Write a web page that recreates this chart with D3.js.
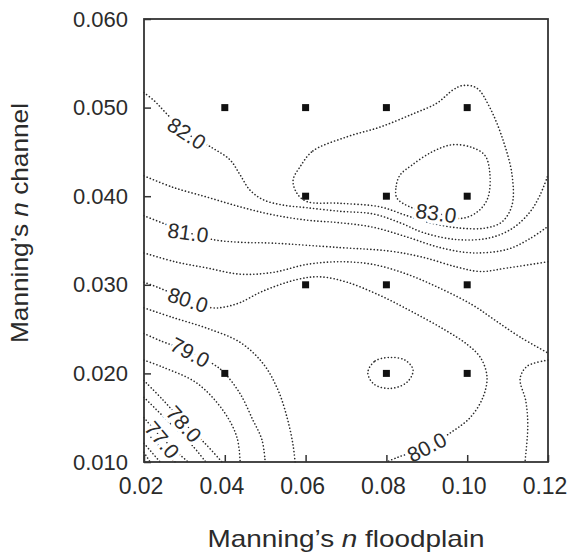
<!DOCTYPE html>
<html lang="en">
	<head>
		<meta charset="utf-8">
		<title>Manning's n contour</title>
		<script type="text/javascript" src="https://cdn.jsdelivr.net/npm/d3@7/dist/d3.min.js"></script>
		<style type="text/css">
			body { margin: 0; background: #fff; }
			text { font-family: "Liberation Sans", Arial, sans-serif; fill: #2b2b2b; }
		</style>
	</head>
	<body>
		<script type="text/javascript">

			//Axis ticks
			var xTicks = [0.02, 0.04, 0.06, 0.08, 0.10, 0.12];
			var yTicks = [0.010, 0.020, 0.030, 0.040, 0.050, 0.060];

			//Simulation points (floodplain n, channel n)
			var pointsX = [0.04, 0.06, 0.08, 0.10, 0.06, 0.08, 0.10, 0.06, 0.08, 0.10, 0.04, 0.08, 0.10];
			var pointsY = [0.05, 0.05, 0.05, 0.05, 0.04, 0.04, 0.04, 0.03, 0.03, 0.03, 0.02, 0.02, 0.02];

			//Contour lines, [n floodplain, n channel]
			var c755 = [[0.0200,0.0111],[0.0215,0.0100]];
			var c76  = [[0.0200,0.0121],[0.0240,0.0100]];
			var c765 = [[0.0200,0.0136],[0.0240,0.0117],[0.0277,0.0100]];
			var c77  = [[0.0200,0.0150],[0.0245,0.0127],[0.0309,0.0100]];
			var c775 = [[0.0200,0.0173],[0.0264,0.0144],[0.0319,0.0119],[0.0353,0.0100]];
			var c78  = [[0.0200,0.0192],[0.0247,0.0170],[0.0299,0.0144],[0.0351,0.0121],[0.0393,0.0100]];
			var c785 = [[0.0200,0.0215],[0.0247,0.0207],[0.0331,0.0189],[0.0396,0.0158],[0.0430,0.0128],[0.0438,0.0100]];
			var c79  = [[0.0200,0.0245],[0.0240,0.0237],[0.0314,0.0224],[0.0373,0.0210],[0.0398,0.0201],
			            [0.0438,0.0177],[0.0470,0.0147],[0.0492,0.0125],[0.0500,0.0100]];
			var c795 = [[0.0200,0.0274],[0.0272,0.0263],[0.0356,0.0251],[0.0438,0.0235],[0.0495,0.0211],
			            [0.0532,0.0181],[0.0556,0.0147],[0.0569,0.0119],[0.0574,0.0100]];
			var c80  = [[0.0200,0.0303],[0.0235,0.0297],[0.0309,0.0283],[0.0368,0.0274],[0.0400,0.0275],
			            [0.0438,0.0280],[0.0495,0.0293],[0.0579,0.0306],[0.0636,0.0309],[0.0702,0.0303],
			            [0.0784,0.0288],[0.0866,0.0269],[0.0945,0.0249],[0.1002,0.0232],[0.1034,0.0217],
			            [0.1049,0.0196],[0.1039,0.0173],[0.1007,0.0150],[0.0962,0.0134],[0.0900,0.0117],
			            [0.0826,0.0105],[0.0801,0.0100]];
			var c805 = [[0.0200,0.0336],[0.0277,0.0326],[0.0356,0.0319],[0.0438,0.0312],[0.0519,0.0314],
			            [0.0603,0.0323],[0.0685,0.0326],[0.0767,0.0323],[0.0851,0.0312],[0.0933,0.0296],
			            [0.1014,0.0277],[0.1069,0.0260],[0.1131,0.0241],[0.1200,0.0223]];
			var c805b = [[0.1200,0.0215],[0.1148,0.0208],[0.1131,0.0194],[0.1145,0.0169],[0.1150,0.0141],[0.1143,0.0100]];
			var c81  = [[0.0200,0.0378],[0.0309,0.0359],[0.0371,0.0351],[0.0438,0.0348],[0.0519,0.0347],
			            [0.0685,0.0342],[0.0809,0.0338],[0.0891,0.0331],[0.0975,0.0320],[0.1032,0.0315],
			            [0.1099,0.0319],[0.1200,0.0326]];
			var c815 = [[0.0200,0.0423],[0.0272,0.0410],[0.0356,0.0399],[0.0438,0.0388],[0.0519,0.0379],
			            [0.0603,0.0373],[0.0685,0.0370],[0.0767,0.0365],[0.0851,0.0354],[0.0933,0.0342],
			            [0.1014,0.0336],[0.1099,0.0340],[0.1155,0.0352],[0.1200,0.0366]];
			var c82  = [[0.0200,0.0517],[0.0227,0.0507],[0.0252,0.0495],[0.0306,0.0471],[0.0371,0.0454],
			            [0.0413,0.0441],[0.0438,0.0424],[0.0462,0.0407],[0.0495,0.0396],[0.0544,0.0390],
			            [0.0603,0.0387],[0.0685,0.0383],[0.0767,0.0380],[0.0834,0.0370],[0.0891,0.0359],
			            [0.0975,0.0351],[0.1056,0.0353],[0.1113,0.0364],[0.1155,0.0382],[0.1180,0.0401],
			            [0.1200,0.0424]];
			//closed loops
			var c825 = [[0.0586,0.0433],[0.0618,0.0451],[0.0702,0.0467],[0.0784,0.0478],[0.0866,0.0493],
			            [0.0925,0.0505],[0.0965,0.0520],[0.0990,0.0525],[0.1024,0.0522],[0.1056,0.0500],
			            [0.1089,0.0463],[0.1111,0.0424],[0.1111,0.0390],[0.1086,0.0371],[0.1044,0.0364],
			            [0.0982,0.0364],[0.0908,0.0370],[0.0851,0.0378],[0.0784,0.0388],[0.0685,0.0392],
			            [0.0603,0.0394],[0.0579,0.0403],[0.0569,0.0418]];
			var c83  = [[0.0826,0.0398],[0.0824,0.0411],[0.0834,0.0424],[0.0863,0.0435],[0.0913,0.0450],
			            [0.0962,0.0458],[0.1012,0.0455],[0.1044,0.0446],[0.1056,0.0426],[0.1051,0.0398],
			            [0.1027,0.0383],[0.0987,0.0375],[0.0923,0.0381],[0.0858,0.0388]];
			var cLoop = [[0.0754,0.0201],[0.0772,0.0214],[0.0809,0.0218],[0.0846,0.0215],[0.0866,0.0204],
			             [0.0851,0.0190],[0.0809,0.0183],[0.0769,0.0188]];

			var openLines = [c755, c76, c765, c77, c775, c78, c785, c79, c795, c80, c805, c805b, c81, c815, c82];
			var closedLines = [c825, c83, cLoop];

			//Contour labels and where they sit
			var labelText = ["82.0", "81.0", "80.0", "79.0", "78.0", "77.0", "83.0", "80.0"];
			var labelX = [0.0306, 0.0309, 0.0309, 0.0314, 0.0299, 0.0245, 0.0923, 0.0900];
			var labelY = [0.0471, 0.0359, 0.0283, 0.0224, 0.0143, 0.0125, 0.0381, 0.0117];
			var labelAngle = [33, 8, 18, 28, 48, 50, 8, -27];

			//Width and height
			var w = 569;
			var h = 555;
			var padL = 144, padR = 548, padT = 19, padB = 462;

			var xScale = d3.scaleLinear().domain([0.02, 0.12]).range([padL, padR]);
			var yScale = d3.scaleLinear().domain([0.010, 0.060]).range([padB, padT]);

			var svg = d3.select("body")
						.append("svg")
						.attr("width", w)
						.attr("height", h);

			var lineOpen = d3.line()
				.x(function(d) { return xScale(d[0]); })
				.y(function(d) { return yScale(d[1]); })
				.curve(d3.curveCatmullRom.alpha(0.5));
			var lineClosed = d3.line()
				.x(function(d) { return xScale(d[0]); })
				.y(function(d) { return yScale(d[1]); })
				.curve(d3.curveCatmullRomClosed.alpha(0.5));

			var plot = svg.append("g");

			//Contours, dotted
			plot.selectAll("path.open")
				.data(openLines)
				.enter()
				.append("path")
				.attr("class", "open")
				.attr("d", lineOpen);
			plot.selectAll("path.closed")
				.data(closedLines)
				.enter()
				.append("path")
				.attr("class", "closed")
				.attr("d", lineClosed);
			plot.selectAll("path")
				.attr("fill", "none")
				.attr("stroke", "#2a2a2a")
				.attr("stroke-width", 1.6)
				.attr("stroke-linecap", "round")
				.attr("stroke-dasharray", "0.1 3.3");

			//Contour labels with a white halo to break the line
			plot.selectAll("text.clab")
				.data(labelText)
				.enter()
				.append("text")
				.attr("class", "clab")
				.attr("transform", function(d, i) {
					return "translate(" + xScale(labelX[i]) + "," + yScale(labelY[i]) + ") rotate(" + labelAngle[i] + ")";
				})
				.attr("text-anchor", "middle")
				.attr("dy", "0.36em")
				.attr("font-size", "21px")
				.attr("stroke", "#fff")
				.attr("stroke-width", 7)
				.attr("paint-order", "stroke")
				.text(function(d) { return d; });

			//Sample points
			plot.selectAll("rect.pt")
				.data(pointsX)
				.enter()
				.append("rect")
				.attr("class", "pt")
				.attr("x", function(d) { return xScale(d) - 3.5; })
				.attr("y", function(d, i) { return yScale(pointsY[i]) - 3.5; })
				.attr("width", 7)
				.attr("height", 7)
				.attr("fill", "#111");

			//Axes, ticks pointing inward
			var xAxis = d3.axisBottom(xScale)
				.tickValues(xTicks)
				.tickFormat(d3.format(".2f"))
				.tickSizeInner(-7)
				.tickSizeOuter(0)
				.tickPadding(16);
			var yAxis = d3.axisLeft(yScale)
				.tickValues(yTicks)
				.tickFormat(d3.format(".3f"))
				.tickSizeInner(-7)
				.tickSizeOuter(0)
				.tickPadding(16);

			var gx = svg.append("g")
				.attr("transform", "translate(0," + padB + ")")
				.call(xAxis);
			var gy = svg.append("g")
				.attr("transform", "translate(" + padL + ",0)")
				.call(yAxis);

			[gx, gy].forEach(function(g) {
				g.select(".domain").remove();
				g.selectAll(".tick line").attr("stroke", "#333").attr("stroke-width", 1.5);
				g.selectAll(".tick text")
					.attr("font-family", "Liberation Sans, Arial, sans-serif")
					.attr("fill", "#2b2b2b");
			});
			gx.selectAll(".tick text").attr("font-size", "23px").attr("dx", -3.5);
			gy.selectAll(".tick text").attr("font-size", "22px");

			//Frame
			svg.append("rect")
				.attr("x", padL)
				.attr("y", padT)
				.attr("width", padR - padL)
				.attr("height", padB - padT)
				.attr("fill", "none")
				.attr("stroke", "#333")
				.attr("stroke-width", 1.8);

			//Axis titles
			var xt = svg.append("text")
				.attr("x", (padL + padR) / 2)
				.attr("y", 547)
				.attr("text-anchor", "middle")
				.attr("font-size", "24px")
				.attr("textLength", 277)
				.attr("lengthAdjust", "spacingAndGlyphs");
			xt.append("tspan").text("Manning\u2019s ");
			xt.append("tspan").attr("font-style", "italic").text("n");
			xt.append("tspan").text(" floodplain");

			var yt = svg.append("text")
				.attr("transform", "translate(28,223) rotate(-90)")
				.attr("text-anchor", "middle")
				.attr("font-size", "24px")
				.attr("textLength", 240)
				.attr("lengthAdjust", "spacingAndGlyphs");
			yt.append("tspan").text("Manning\u2019s ");
			yt.append("tspan").attr("font-style", "italic").text("n");
			yt.append("tspan").text(" channel");

		</script>
	</body>
</html>
